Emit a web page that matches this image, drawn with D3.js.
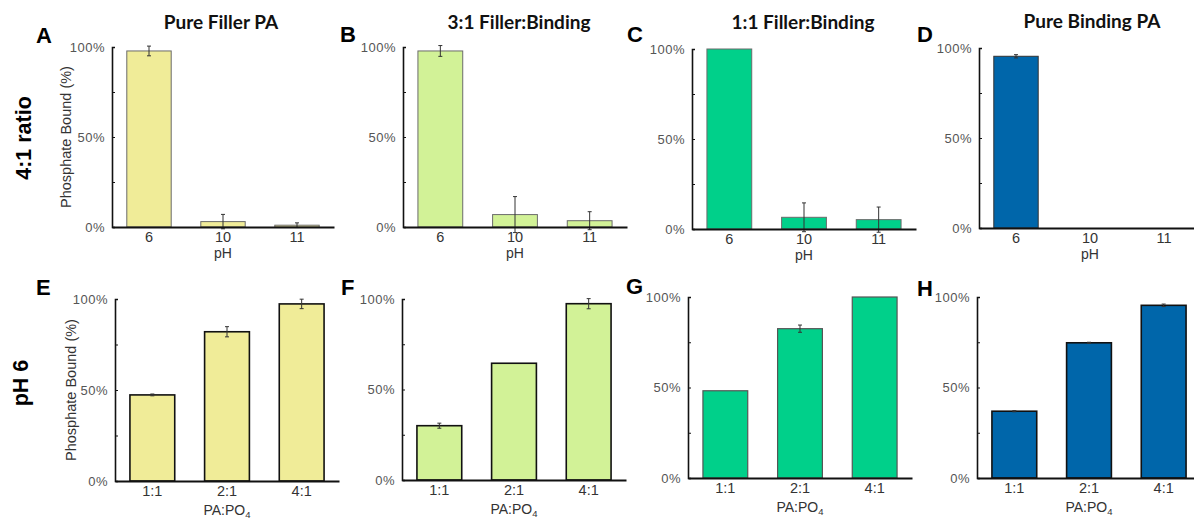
<!DOCTYPE html>
<html>
<head>
<meta charset="utf-8">
<script src="https://cdn.jsdelivr.net/npm/d3@7"></script>
<style>
  html, body { margin: 0; padding: 0; background: #fff; }
  svg { display: block; }
</style>
</head>
<body>
<svg id="chart" width="1194" height="520"></svg>
<script>
// ---------------- DATA ----------------
const phCategories = ["6", "10", "11"];
const ratioCategories = ["1:1", "2:1", "4:1"];
const panelTitles = ["Pure Filler PA", "3:1 Filler:Binding", "1:1 Filler:Binding", "Pure Binding PA"];
const panelLetters = ["A", "B", "C", "D", "E", "F", "G", "H"];
const rowLabels = ["4:1 ratio", "pH 6"];
const yTickValues = [0, 25, 50, 75, 100];
const yAxisTitle = "Phosphate Bound (%)";
const xTitlePH = "pH";
const xTitleRatioMain = "PA:PO";
const xTitleRatioSub = "4";
const seriesColors = ["#F0EC98", "#D2F297", "#00D08A", "#0066AA"];

// Row 1: 4:1 ratio, by pH
const pureFillerByPH = [97.8, 3.0, 1.0];
const pureFillerByPHErr = [2.7, 4.0, 1.3];
const filler3to1ByPH = [97.8, 6.9, 3.5];
const filler3to1ByPHErr = [3.0, 10.0, 5.0];
const filler1to1ByPH = [100, 6.5, 5.2];
const filler1to1ByPHErr = [0, 8.0, 7.0];
const pureBindingByPH = [95.4, 0, 0];
const pureBindingByPHErr = [0.9, 0, 0];

// Row 2: pH 6, by PA:PO4 ratio
const pureFillerByRatio = [47.3, 82.0, 97.3];
const pureFillerByRatioErr = [0.5, 2.8, 2.6];
const filler3to1ByRatio = [30.0, 64.5, 97.4];
const filler3to1ByRatioErr = [1.4, 0, 2.8];
const filler1to1ByRatio = [48.2, 82.5, 100];
const filler1to1ByRatioErr = [0, 2.0, 0];
const pureBindingByRatio = [36.9, 74.7, 95.4];
const pureBindingByRatioErr = [0.3, 0.3, 0.7];

// ---------------- LAYOUT ----------------
const layout = [
  { x0: 112, w: 222, yT: 47, yB: 227, lx: 36,  ly: 43,  tx: 221,  ty: 29 },
  { x0: 403, w: 224, yT: 47, yB: 227, lx: 340, ly: 42,  tx: 519,  ty: 28.5 },
  { x0: 692, w: 224, yT: 49, yB: 229, lx: 627, ly: 42,  tx: 803,  ty: 29 },
  { x0: 979, w: 222, yT: 48, yB: 228, lx: 917, ly: 42,  tx: 1092, ty: 27.5 },
  { x0: 115, w: 224, yT: 299, yB: 481, lx: 36,  ly: 295 },
  { x0: 402, w: 224, yT: 299, yB: 480, lx: 341, ly: 295 },
  { x0: 688, w: 224, yT: 297, yB: 478, lx: 626, ly: 294 },
  { x0: 977, w: 224, yT: 297, yB: 478, lx: 917, ly: 296 }
];
const barStyles = [
  { s: "#6b6b6b", w: 1 }, { s: "#6b6b6b", w: 1 }, { s: "#6b6b6b", w: 1 }, { s: "#333", w: 1 },
  { s: "#111", w: 1.6 }, { s: "#111", w: 1.6 }, { s: "#555", w: 1.2 }, { s: "#111", w: 1.6 }
];

const panels = [
  { cats: phCategories, vals: pureFillerByPH, errs: pureFillerByPHErr, color: seriesColors[0] },
  { cats: phCategories, vals: filler3to1ByPH, errs: filler3to1ByPHErr, color: seriesColors[1] },
  { cats: phCategories, vals: filler1to1ByPH, errs: filler1to1ByPHErr, color: seriesColors[2] },
  { cats: phCategories, vals: pureBindingByPH, errs: pureBindingByPHErr, color: seriesColors[3] },
  { cats: ratioCategories, vals: pureFillerByRatio, errs: pureFillerByRatioErr, color: seriesColors[0] },
  { cats: ratioCategories, vals: filler3to1ByRatio, errs: filler3to1ByRatioErr, color: seriesColors[1] },
  { cats: ratioCategories, vals: filler1to1ByRatio, errs: filler1to1ByRatioErr, color: seriesColors[2] },
  { cats: ratioCategories, vals: pureBindingByRatio, errs: pureBindingByRatioErr, color: seriesColors[3] }
];

const svg = d3.select("#chart");
const SANS = "'Liberation Sans', Arial, sans-serif";

panels.forEach((p, i) => {
  const L = layout[i];
  const row = i < 4 ? 0 : 1;
  const g = svg.append("g");

  const x = d3.scaleBand().domain(p.cats).range([L.x0, L.x0 + L.w]).paddingInner(0.4).paddingOuter(0.2);
  const y = d3.scaleLinear().domain([0, 100]).range([L.yB, L.yT]);

  // bars
  const data = p.cats.map((c, k) => ({ c, v: p.vals[k], e: p.errs[k] }));
  g.selectAll("rect.bar").data(data.filter(d => d.v > 0)).join("rect")
    .attr("class", "bar")
    .attr("x", d => x(d.c))
    .attr("width", x.bandwidth())
    .attr("y", d => y(d.v))
    .attr("height", d => y(0) - y(d.v))
    .attr("fill", p.color)
    .attr("stroke", barStyles[i].s)
    .attr("stroke-width", barStyles[i].w);

  // error bars
  const eb = data.filter(d => d.e > 0 && d.v > 0);
  const cx = d => x(d.c) + x.bandwidth() / 2;
  g.selectAll("line.err").data(eb).join("line")
    .attr("x1", cx).attr("x2", cx)
    .attr("y1", d => y(d.v - d.e)).attr("y2", d => y(d.v + d.e))
    .attr("stroke", "#333").attr("stroke-width", 1);
  g.selectAll("line.capT").data(eb).join("line")
    .attr("x1", d => cx(d) - 2).attr("x2", d => cx(d) + 2)
    .attr("y1", d => y(d.v + d.e)).attr("y2", d => y(d.v + d.e))
    .attr("stroke", "#333").attr("stroke-width", 1);
  g.selectAll("line.capB").data(eb).join("line")
    .attr("x1", d => cx(d) - 2).attr("x2", d => cx(d) + 2)
    .attr("y1", d => y(d.v - d.e)).attr("y2", d => y(d.v - d.e))
    .attr("stroke", "#333").attr("stroke-width", 1);

  // y axis
  const ya = g.append("g").attr("transform", `translate(${L.x0},0)`)
    .call(d3.axisLeft(y).tickValues(yTickValues).tickSizeInner(-3).tickSizeOuter(-3).tickPadding(7)
      .tickFormat(d => d % 50 === 0 ? d + "%" : ""));
  ya.select(".domain").attr("stroke", "#111").attr("stroke-width", 1.6);
  ya.selectAll(".tick line").attr("stroke", "#111").attr("stroke-width", 1);
  ya.selectAll(".tick text").attr("font-family", SANS).attr("font-size", 13)
    .attr("letter-spacing", "0.5px").attr("fill", "#555");

  // x axis
  const xa = g.append("g").attr("transform", `translate(0,${L.yB})`)
    .call(d3.axisBottom(x).tickSize(0).tickPadding(5));
  xa.select(".domain").attr("stroke", "#111").attr("stroke-width", 2);
  xa.selectAll(".tick text").attr("font-family", SANS).attr("font-size", 14.5).attr("fill", "#333");

  // x title
  const axc = L.x0 + L.w / 2;
  if (row === 0) {
    g.append("text").attr("x", axc).attr("y", L.yB + 31).attr("text-anchor", "middle")
      .attr("font-family", SANS).attr("font-size", 14).attr("fill", "#333").text(xTitlePH);
  } else {
    const t = g.append("text").attr("x", axc).attr("y", L.yB + 34).attr("text-anchor", "middle")
      .attr("font-family", SANS).attr("font-size", 14).attr("fill", "#333");
    t.append("tspan").text(xTitleRatioMain);
    t.append("tspan").attr("font-size", 9.5).attr("dy", 2.5).text(xTitleRatioSub);
  }

  // letter
  g.append("text").attr("x", L.lx).attr("y", L.ly)
    .attr("font-family", SANS).attr("font-weight", "bold").attr("font-size", 22).attr("fill", "#000")
    .text(panelLetters[i]);

  // title
  if (row === 0) {
    g.append("text").attr("x", L.tx).attr("y", L.ty).attr("text-anchor", "middle")
      .attr("font-family", "Lato, 'Open Sans', sans-serif").attr("font-weight", "bold")
      .attr("font-size", 19).attr("fill", "#111").text(panelTitles[i]);
  }

  // y title (first column)
  if (i % 4 === 0) {
    const yc = (L.yT + L.yB) / 2;
    const bx = L.x0 - (row === 0 ? 41 : 39);
    g.append("text").attr("transform", `translate(${bx},${yc}) rotate(-90)`)
      .attr("text-anchor", "middle").attr("font-family", SANS).attr("font-size", 14.5)
      .attr("fill", "#333").text(yAxisTitle);
  }
});

// row labels
svg.append("text").attr("transform", "translate(31,138) rotate(-90)").attr("text-anchor", "middle")
  .attr("font-family", SANS).attr("font-weight", "bold").attr("font-size", 21.5).attr("fill", "#000")
  .text(rowLabels[0]);
svg.append("text").attr("transform", "translate(28,383) rotate(-90)").attr("text-anchor", "middle")
  .attr("font-family", SANS).attr("font-weight", "bold").attr("font-size", 21.5).attr("fill", "#000")
  .text(rowLabels[1]);
</script>
</body>
</html>
